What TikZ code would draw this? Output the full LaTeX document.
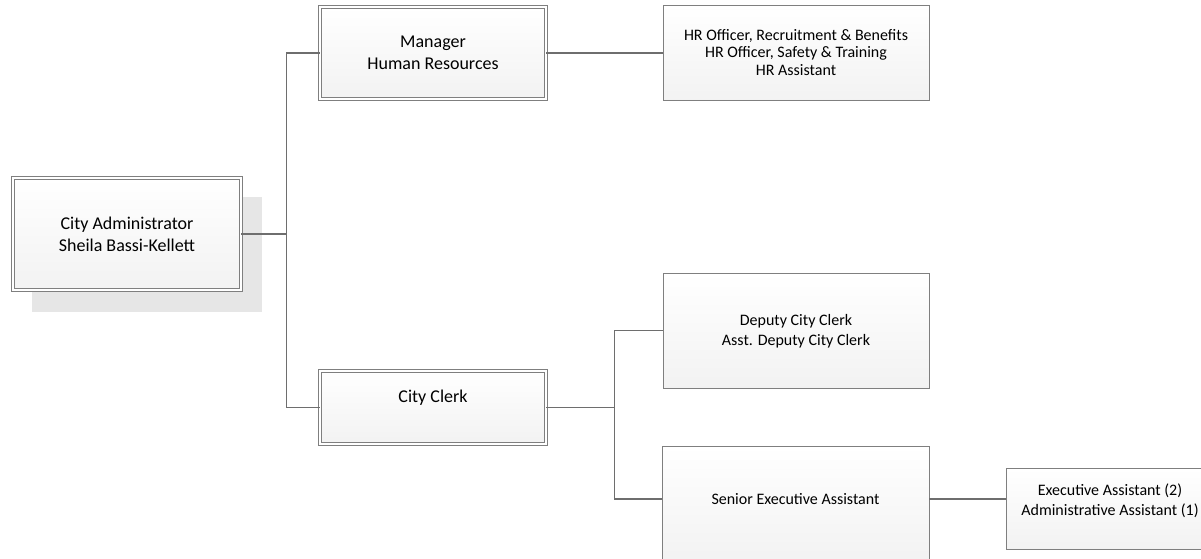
\documentclass[tikz,border=0pt]{standalone}
\usepackage{fontspec}
\setmainfont{Carlito}
\usetikzlibrary{shadows}
\definecolor{edgegray}{HTML}{7F7F7F}
\definecolor{wiregray}{HTML}{6E6E6E}
\definecolor{backgray}{HTML}{E6E6E6}
\tikzset{
  box/.style={draw=edgegray, line width=0.9pt, top color=white, bottom color=black!5,
    align=center, inner sep=0pt, font=\fontsize{16}{17.5}\selectfont,
    drop shadow={shadow xshift=1.2pt, shadow yshift=-1.2pt, fill=black!25, opacity=0.6}},
  dbox/.style={draw=edgegray, line width=0.9pt, top color=white, bottom color=black!5,
    align=center, inner sep=0pt, double=white, double distance=2.2pt,
    font=\fontsize{18}{22}\selectfont},
  wirestyle/.style={draw=wiregray, line width=1.1pt}
}
\begin{document}
\begin{tikzpicture}[x=1pt,y=-1pt]
\useasboundingbox (0,0) rectangle (1201,559);
% shadow of the top box
\fill[backgray] (32,197) rectangle (262,312);
\node[dbox, minimum width=228pt, minimum height=112pt] (ca) at (127,234)
  {City Administrator\\Sheila Bassi-Kellett};
\node[dbox, minimum width=226pt, minimum height=92pt] (mhr) at (433,53)
  {Manager\\Human Resources};
\node[box, minimum width=266pt, minimum height=95pt] (hro) at (796,52.5)
  {HR Officer, Recruitment \& Benefits\\HR Officer, Safety \& Training\\HR Assistant};
\node[box, minimum width=266pt, minimum height=115pt] (dcc) at (796,330.5)
  {Deputy City Clerk\\[3pt]Asst. Deputy City Clerk\\[-16pt]~};
\node[dbox, minimum width=226pt, minimum height=73pt] (cc) at (433,407.5)
  {City Clerk\\~};
\node[box, minimum width=267pt, minimum height=116pt] (sea) at (795.5,504)
  {Senior Executive Assistant\\[-7pt]~};
\node[box, minimum width=208pt, minimum height=81pt] (ea) at (1110,508.5)
  {Executive Assistant (2)\\[3pt]Administrative Assistant (1)\\~};
% connectors
\coordinate (j1) at (286.5,234);
\coordinate (j2) at (614.5,407.5);
\draw[wirestyle] (ca.east) -- (j1);
\draw[wirestyle] (mhr.west) -| (j1) |- (cc.west);
\draw[wirestyle] (mhr.east) -- (mhr.east -| hro.west);
\draw[wirestyle] (cc.east) -- (j2);
\draw[wirestyle] (dcc.west) -| (j2);
\draw[wirestyle] (j2) |- ([yshift=5pt]sea.west);
\draw[wirestyle] ([yshift=5pt]sea.east) -- ([yshift=5pt]sea.east -| ea.west);
\end{tikzpicture}
\end{document}
